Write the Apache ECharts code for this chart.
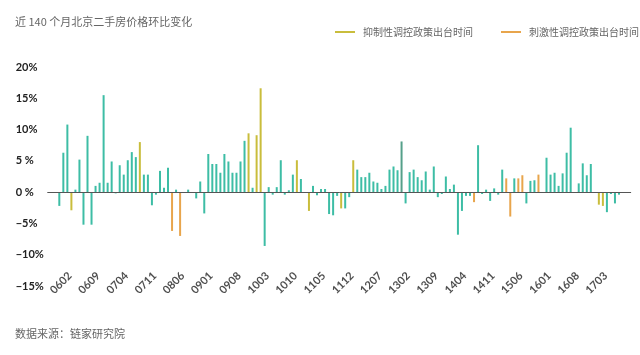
<!DOCTYPE html>
<html><head><meta charset="utf-8">
<script src="https://cdn.jsdelivr.net/npm/echarts@6.0.0/dist/echarts.min.js"></script>
<style>html,body{margin:0;padding:0;background:#fff}#c{width:640px;height:355px}</style>
</head><body><div id="c"></div>
<script>
const titleText = '近 140 个月北京二手房价格环比变化';
const sourceText = '数据来源：链家研究院';
const legendNames = ['抑制性调控政策出台时间', '刺激性调控政策出台时间'];

const categories = [
 '0511','0512',
 '0601','0602','0603','0604','0605','0606','0607','0608','0609','0610','0611','0612',
 '0701','0702','0703','0704','0705','0706','0707','0708','0709','0710','0711','0712',
 '0801','0802','0803','0804','0805','0806','0807','0808','0809','0810','0811','0812',
 '0901','0902','0903','0904','0905','0906','0907','0908','0909','0910','0911','0912',
 '1001','1002','1003','1004','1005','1006','1007','1008','1009','1010','1011','1012',
 '1101','1102','1103','1104','1105','1106','1107','1108','1109','1110','1111','1112',
 '1201','1202','1203','1204','1205','1206','1207','1208','1209','1210','1211','1212',
 '1301','1302','1303','1304','1305','1306','1307','1308','1309','1310','1311','1312',
 '1401','1402','1403','1404','1405','1406','1407','1408','1409','1410','1411','1412',
 '1501','1502','1503','1504','1505','1506','1507','1508','1509','1510','1511','1512',
 '1601','1602','1603','1604','1605','1606','1607','1608','1609','1610','1611','1612',
 '1701','1702','1703','1704','1705','1706'
];

// x-axis tick labels shown on the chart (every 7th month)
const xTickLabels = ['0602','0609','0704','0711','0806','0901','0908','1003','1010','1105',
  '1112','1207','1302','1309','1404','1411','1506','1601','1608','1703'];

// month-on-month change, %
const values = [
 -2.2, 6.3, 10.8, -2.9, 0.4, 5.2, -5.2, 9.0, -5.2, 1.0,
 1.5, 15.5, 1.5, 4.9, -0.2, 4.3, 2.8, 5.1, 6.4, 5.6,
 8.0, 2.8, 2.8, -2.1, -0.4, 3.4, 0.7, 3.9, -6.2, 0.4,
 -7.0, 0, 0.4, 0, -1.0, 1.7, -3.4, 6.1, 4.5, 4.5,
 3.1, 6.1, 4.9, 3.1, 3.1, 4.9, 8.2, 9.4, 0.7, 9.1,
 16.6, -8.6, 0.8, -0.4, 0.8, 5.1, -0.4, 0.3, 2.8, 5.1,
 2.1, 0, -3.0, 1.0, -0.5, 0.5, 0.5, -3.5, -3.7, -0.6,
 -2.6, -2.6, -0.8, 5.1, 3.6, 2.4, 2.4, 3.1, 1.7, 1.5,
 0.5, 1.0, 3.6, 4.1, 3.5, 8.1, -1.8, 3.2, 3.6, 2.4,
 1.9, 3.3, 0.4, 4.1, -0.8, -0.3, 2.5, 0.5, 1.2, -6.8,
 -3.0, -0.6, -0.6, -1.6, 7.5, -0.3, 0.4, -1.4, 0.6, -0.4,
 3.6, 2.2, -3.9, 2.2, 2.2, 2.7, -1.8, 1.8, 1.9, 2.8,
 0, 5.5, 2.8, 3.1, 1.0, 3.0, 6.3, 10.3, 0, 1.4,
 4.6, 2.7, 4.5, 0, -2.0, -2.2, -3.2, -0.3, -1.8, -0.4
];

// n = normal, s = suppressive policy month, x = stimulus policy month, d = normal (darker shade)
const policy = [
 'n','n','n','s','n','n','n','n','n','n',
 'n','n','n','n','n','n','n','n','n','n',
 's','n','n','n','n','n','n','n','x','n',
 'x','n','n','n','n','n','n','n','n','n',
 'n','n','n','n','n','n','n','s','n','s',
 's','n','n','n','n','n','n','n','n','s',
 'n','n','s','n','n','n','n','n','n','n',
 's','n','n','s','n','n','n','n','n','n',
 'n','n','n','n','n','d','n','n','n','n',
 'n','n','n','n','n','n','n','n','n','n',
 'n','n','n','x','n','n','n','n','n','n',
 'n','x','x','n','x','x','n','n','n','x',
 'n','n','n','n','n','n','n','n','n','n',
 'n','n','n','n','s','s','n','n','n','n'
];

const yMin = -15, yMax = 20, yStep = 5;
const yTicks = [-15, -10, -5, 0, 5, 10, 15, 20];
const yTickLabels = ['\u221215%', '\u221210%', '\u22125%', '0 %', '5 %', '10%', '15%', '20%'];

const COLORS = { n: '#3dbda5', d: '#55a08a', s: '#c9bd3c', x: '#e8a54c' };

function pick(codes) {
  return values.map((v, i) => {
    if (codes.indexOf(policy[i]) < 0) return null;
    if (policy[i] === 'd') return { value: v, itemStyle: { color: COLORS.d } };
    return v;
  });
}

const legendText = { fontSize: 10, color: '#666', fontFamily: 'Noto Sans CJK SC', padding: [0, 0, 0, 3] };
const chart = echarts.init(document.getElementById('c'), null, { renderer: 'canvas' });
const barCommon = { type: 'bar', xAxisIndex: 0, yAxisIndex: 0, barWidth: 2, barGap: '-100%', z: 2 };
chart.setOption({
  animation: false,
  title: [
    { text: titleText, left: 10, top: 11, textStyle: { fontSize: 11, fontWeight: 'normal', color: '#666', fontFamily: 'Noto Sans CJK SC' } },
    { text: sourceText, left: 10, top: 323, textStyle: { fontSize: 11, fontWeight: 'normal', color: '#666', fontFamily: 'Noto Sans CJK SC' } }
  ],
  legend: [
    { data: [legendNames[0]], left: 330, top: 22, itemWidth: 20, itemHeight: 2, icon: 'rect', textStyle: legendText },
    { data: [legendNames[1]], left: 496, top: 22, itemWidth: 20, itemHeight: 2, icon: 'rect', textStyle: legendText }
  ],
  grid: [
    { left: 57.3, right: 19, top: 67, bottom: 69 },
    { left: 47.7, right: 9.3, top: 67, bottom: 69 }
  ],
  xAxis: [
    { type: 'category', gridIndex: 0, data: categories,
      axisLine: { show: false, onZero: false }, axisTick: { show: false }, axisLabel: { show: false } },
    { type: 'value', gridIndex: 1, min: 0, max: 1, z: 5,
      axisLine: { show: true, onZero: true, lineStyle: { color: '#555', width: 1 } },
      axisTick: { show: false }, axisLabel: { show: false }, splitLine: { show: false } }
  ],
  yAxis: [
    { type: 'value', gridIndex: 0, min: yMin, max: yMax, interval: yStep, show: false },
    { type: 'value', gridIndex: 1, min: yMin, max: yMax, interval: yStep,
      axisLine: { show: false }, axisTick: { show: false }, splitLine: { show: false },
      axisLabel: { formatter: (v) => { const k = yTicks.indexOf(v); return k < 0 ? '' : yTickLabels[k]; },
        align: 'left', margin: 32, fontSize: 11, fontWeight: 'bold', color: '#222', fontFamily: 'Lato' } }
  ],
  series: [
    Object.assign({ name: '普通', data: pick(['n', 'd']), itemStyle: { color: COLORS.n } }, barCommon),
    Object.assign({ name: legendNames[0], data: pick(['s']), itemStyle: { color: COLORS.s } }, barCommon),
    Object.assign({ name: legendNames[1], data: pick(['x']), itemStyle: { color: COLORS.x } }, barCommon),
    {
      // rotated month labels along the bottom of the plot, placed on the category scale
      type: 'scatter', name: 'xlabels', xAxisIndex: 0, yAxisIndex: 0, silent: true, z: 6,
      symbolSize: 0, data: xTickLabels.map((m) => [m, yMin]),
      label: { show: true, position: 'inside', rotate: 45, align: 'right', verticalAlign: 'middle',
        offset: [7.6, -9.4], formatter: (p) => p.value[0],
        fontSize: 11, fontWeight: 'bold', color: '#222', fontFamily: 'Lato' }
    }
  ]
});
</script>
</body></html>
